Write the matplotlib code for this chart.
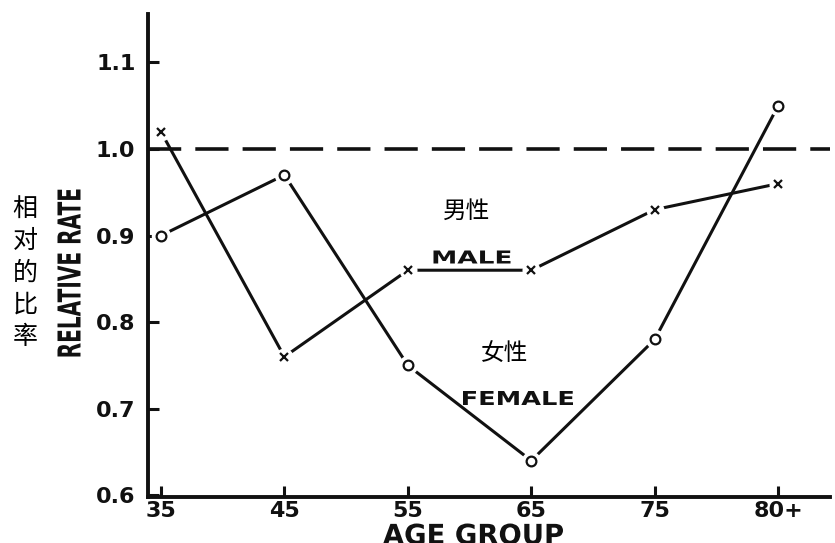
import matplotlib
matplotlib.use("Agg")
import matplotlib.pyplot as plt
from matplotlib.textpath import TextPath
from matplotlib.patches import PathPatch
from matplotlib.font_manager import FontProperties
from matplotlib.transforms import Affine2D

age_groups = ["35", "45", "55", "65", "75", "80+"]
male = [1.02, 0.76, 0.86, 0.86, 0.93, 0.96]
female = [0.90, 0.97, 0.75, 0.64, 0.78, 1.05]
y_ticks = [0.6, 0.7, 0.8, 0.9, 1.0, 1.1]
reference = 1.0

W, H = 835, 543
ink = "#111111"
cjk = ["Noto Sans CJK SC", "DejaVu Sans"]
bold = FontProperties(family="DejaVu Sans", weight="bold")

fig = plt.figure(figsize=(W / 100, H / 100), dpi=100)
ax = fig.add_axes([148 / W, 1 - 497 / H, 682 / W, 483 / H])

x = list(range(len(age_groups)))


def draw_series(values, marker, ms):
	ax.plot(x, values, color=ink, lw=2.2, zorder=2)
	# white halo so the line stops short of each marker
	ax.plot(x, values, linestyle="none", marker="o", ms=ms + 7,
		mfc="white", mec="none", zorder=3)
	ax.plot(x, values, linestyle="none", marker=marker, ms=ms,
		mfc="white", mec=ink, mew=1.6, zorder=4)


def stretched_text(cx, cy, s, width, height, rotation=0):
	# text squeezed/stretched to a given ink box, centre in image pixels
	tp = TextPath((0, 0), s, size=10, prop=bold)
	ext = tp.get_extents()
	tr = (Affine2D()
		.translate(-(ext.x0 + ext.x1) / 2, -(ext.y0 + ext.y1) / 2)
		.scale(width / ext.width, height / ext.height)
		.rotate_deg(rotation)
		.translate(cx, H - cy))
	fig.add_artist(PathPatch(tp, transform=tr, color=ink, lw=0))


draw_series(female, "o", 7)
draw_series(male, "x", 6)

ax.axhline(reference, color=ink, lw=2.6, dashes=(9.2, 3.9), zorder=1)

ax.set_xlim(-0.105, 5.42)
ax.set_ylim(0.598, 1.156)
ax.set_xticks(x)
ax.set_xticklabels(age_groups)
ax.set_yticks(y_ticks)
ax.set_yticklabels([f"{v:.1f}" for v in y_ticks])

for side in ["top", "right"]:
	ax.spines[side].set_visible(False)
for side in ["left", "bottom"]:
	ax.spines[side].set_linewidth(2.8)
	ax.spines[side].set_color(ink)

ax.tick_params(axis="both", direction="in", length=8, width=2.2, colors=ink,
	labelsize=16)
ax.tick_params(axis="x", pad=3)
ax.tick_params(axis="y", pad=9)
for lab in ax.get_xticklabels() + ax.get_yticklabels():
	lab.set_fontfamily("DejaVu Sans")
	lab.set_fontweight("bold")

stretched_text(473, 534, "AGE GROUP", 180, 21)
stretched_text(69, 273, "RELATIVE RATE", 167, 23, rotation=90)
stretched_text(472, 257, "MALE", 77, 13)
stretched_text(518, 398, "FEMALE", 110, 14)

fig.text(25 / W, 1 - 273 / H, "\n".join("相对的比率"), ha="center", va="center",
	fontsize=18, family=cjk, linespacing=1.3)

ax.text(2.48, 0.928, "男性", ha="center", va="center", fontsize=17, family=cjk)
ax.text(2.78, 0.764, "女性", ha="center", va="center", fontsize=17, family=cjk)

fig.savefig("out.png", dpi=100)
